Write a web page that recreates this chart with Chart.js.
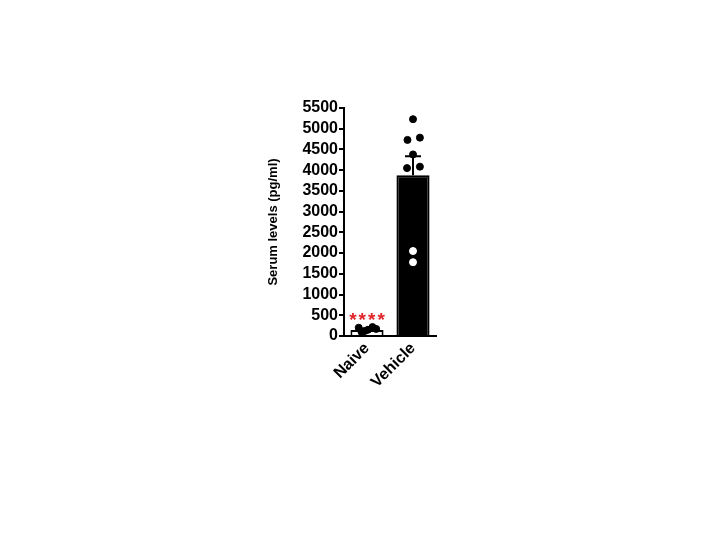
<!DOCTYPE html>
<html>
<head>
<meta charset="utf-8">
<script src="https://cdn.jsdelivr.net/npm/chart.js@4"></script>
<style>
  html, body { margin: 0; padding: 0; background: #fff; }
  #wrap { position: relative; width: 720px; height: 540px; }
</style>
</head>
<body>
<div id="wrap"><canvas id="chart" width="720" height="540"></canvas></div>
<script>
// data
const groups = ['Naive', 'Vehicle'];
const means = [145, 3880];
const sds = [30, 455];
const naivePoints = [200, 120, 215, 150, 170, 100];
const naiveJitter = [-0.18, -0.05, 0.12, 0.02, 0.2, -0.12];
const vehiclePoints = [5230, 4730, 4785, 4380, 4050, 4085, 2050, 1780];
const vehicleJitter = [0, -0.12, 0.15, 0, -0.13, 0.15, 0, 0];
const vehicleInside = [false, false, false, false, false, false, true, true];
const yTicks = [0, 500, 1000, 1500, 2000, 2500, 3000, 3500, 4000, 4500, 5000, 5500];
const signif = '****';

const tickFont = { family: 'Liberation Sans, Arial, sans-serif', size: 16, weight: 'bold' };

// scatter points on a hidden linear axis that lines up with the categories
const naiveXY = naivePoints.map((v, i) => ({ x: 0 + naiveJitter[i], y: v }));
const vehicleXY = vehiclePoints.map((v, i) => ({ x: 1 + vehicleJitter[i], y: v }));

// upper error whisker + significance stars
const extras = {
    id: 'extras',
    afterDatasetsDraw(chart) {
        const ctx = chart.ctx;
        const x = chart.scales.x;
        const y = chart.scales.y;
        ctx.save();
        ctx.strokeStyle = '#000';
        ctx.lineWidth = 2;
        means.forEach((m, i) => {
            const cx = x.getPixelForValue(i);
            const top = y.getPixelForValue(m + sds[i]);
            const base = y.getPixelForValue(m);
            ctx.beginPath();
            ctx.moveTo(cx, base);
            ctx.lineTo(cx, top);
            ctx.moveTo(cx - 8, top);
            ctx.lineTo(cx + 8, top);
            ctx.stroke();
        });
        ctx.fillStyle = '#e0262b';
        ctx.font = 'bold 19px Liberation Sans, Arial, sans-serif';
        ctx.letterSpacing = '2px';
        ctx.textAlign = 'center';
        ctx.textBaseline = 'middle';
        ctx.fillText(signif, x.getPixelForValue(0) + 1, y.getPixelForValue(360));
        ctx.restore();
    }
};

new Chart(document.getElementById('chart'), {
    type: 'bar',
    data: {
        labels: groups,
        datasets: [
            {
                type: 'scatter',
                data: vehicleXY,
                xAxisID: 'xs',
                backgroundColor: vehicleInside.map(w => w ? '#fff' : '#000'),
                borderColor: vehicleInside.map(w => w ? '#fff' : '#000'),
                pointRadius: 3.5,
                order: 0
            },
            {
                type: 'scatter',
                data: naiveXY,
                xAxisID: 'xs',
                backgroundColor: '#000',
                borderColor: '#000',
                pointRadius: 3.5,
                order: 0
            },
            {
                type: 'bar',
                data: means,
                xAxisID: 'x',
                backgroundColor: ['#fff', '#000'],
                borderColor: '#000',
                borderWidth: 2,
                grouped: false,
                barPercentage: 0.72,
                categoryPercentage: 1,
                order: 1
            }
        ]
    },
    options: {
        responsive: false,
        animation: false,
        layout: { padding: { left: 262, right: 284, top: 108, bottom: 150 } },
        plugins: { legend: { display: false }, tooltip: { enabled: false } },
        scales: {
            x: {
                type: 'category',
                offset: true,
                grid: { display: false },
                border: { display: true, color: '#000', width: 2 },
                ticks: { color: '#000', font: tickFont, maxRotation: 45, minRotation: 45, padding: -5 },
                afterFit(s) { s.height = 54; }
            },
            xs: {
                type: 'linear',
                display: false,
                offset: false,
                grid: { offset: false },
                min: -0.5,
                max: 1.5
            },
            y: {
                min: 0,
                max: 5500,
                afterBuildTicks(s) { s.ticks = yTicks.map(v => ({ value: v })); },
                grid: { display: true, drawOnChartArea: false, drawTicks: true, tickLength: 5, color: '#000', lineWidth: 2 },
                border: { display: true, color: '#000', width: 2 },
                ticks: { color: '#000', font: tickFont, padding: 1, autoSkip: false, callback: v => String(v) },
                title: {
                    display: true,
                    text: 'Serum levels (pg/ml)',
                    color: '#000',
                    font: { family: 'Liberation Sans, Arial, sans-serif', size: 13, weight: 'bold' },
                    padding: { top: 4, bottom: 0 }
                },
                afterFit(s) { s.width = 82; }
            }
        }
    },
    plugins: [extras]
});
</script>
</body>
</html>
